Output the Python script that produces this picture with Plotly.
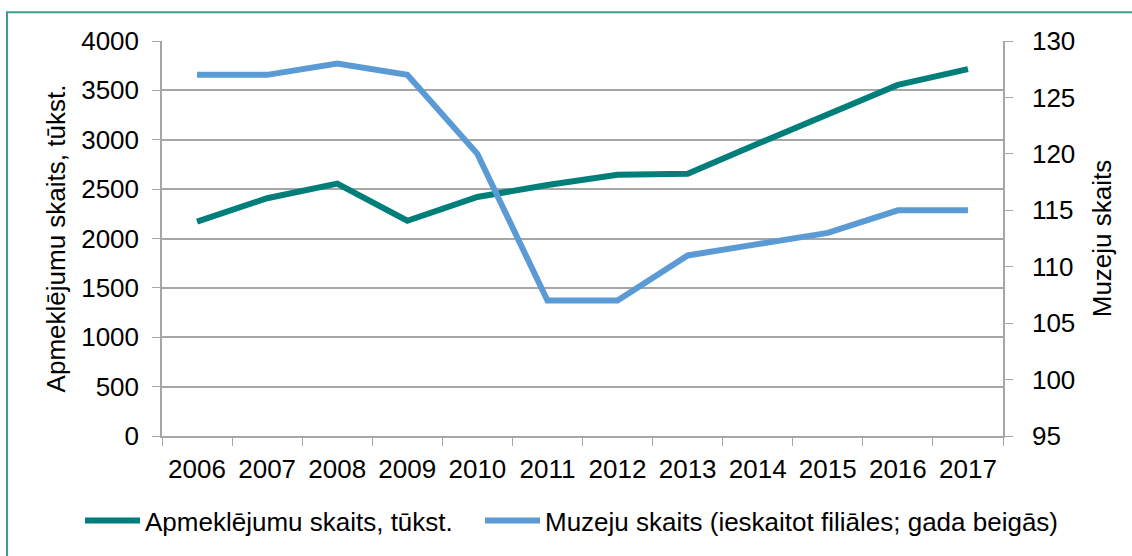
import plotly.graph_objects as go

years = ["2006", "2007", "2008", "2009", "2010", "2011", "2012", "2013", "2014", "2015", "2016", "2017"]
visits = [2170, 2408, 2556, 2180, 2421, 2542, 2645, 2655, 2960, 3255, 3555, 3715]
museums = [127, 127, 128, 127, 120, 107, 107, 111, 112, 113, 115, 115]

name_visits = "Apmeklējumu skaits, tūkst."
name_museums = "Muzeju skaits (ieskaitot filiāles; gada beigās)"

FONT = "Liberation Sans, Arial, sans-serif"
GREEN = "#007F7A"
BLUE = "#5B9BD5"
GRID = "#A6A6A6"
FS = 26

fig = go.Figure()
fig.add_trace(go.Scatter(x=years, y=visits, name=name_visits, mode="lines",
                         line=dict(color=GREEN, width=6), yaxis="y", legend="legend"))
fig.add_trace(go.Scatter(x=years, y=museums, name=name_museums, mode="lines",
                         line=dict(color=BLUE, width=6), yaxis="y2", legend="legend2"))

legend_common = dict(orientation="h", xref="paper", yref="paper", xanchor="left",
                     y=-0.214, yanchor="middle", font=dict(size=FS), itemwidth=55,
                     bgcolor="rgba(0,0,0,0)")

fig.update_layout(
    width=1132, height=556,
    margin=dict(l=162, r=129, t=41, b=118),
    paper_bgcolor="white", plot_bgcolor="white",
    font=dict(family=FONT, size=FS, color="black"),
    xaxis=dict(type="category", showgrid=False, showline=True, linecolor=GRID, linewidth=1.5,
               ticks="outside", tickson="boundaries", ticklen=8, tickcolor=GRID,
               tickfont=dict(size=FS), range=[-0.5, 11.5], zeroline=False,
               ticklabelstandoff=9),
    yaxis=dict(range=[0, 4000], dtick=500, showgrid=True, gridcolor=GRID, gridwidth=1.5,
               showline=True, linecolor=GRID, linewidth=1.5, ticks="outside", ticklen=8,
               tickcolor=GRID, zeroline=False, ticklabelstandoff=8,
               title=dict(text=name_visits, font=dict(size=FS), standoff=8)),
    yaxis2=dict(range=[95, 130], dtick=5, overlaying="y", side="right", showgrid=False,
                showline=True, linecolor=GRID, linewidth=1.5, ticks="outside", ticklen=8,
                tickcolor=GRID, zeroline=False, ticklabelstandoff=14,
                title=dict(text="Muzeju skaits", font=dict(size=FS), standoff=18)),
    legend=dict(x=(80 - 162) / 841, **legend_common),
    legend2=dict(x=(480 - 162) / 841, **legend_common),
    showlegend=True,
)

fig.add_shape(type="rect", xref="paper", yref="paper",
              x0=(7 - 162) / 841, x1=1.3, y0=-0.6, y1=(438 - 12) / 397,
              line=dict(color="#3A9C95", width=2), fillcolor="rgba(0,0,0,0)", layer="below")

fig.write_html("out.html", config={"displayModeBar": False},
               post_script="document.body.style.margin='0';")
